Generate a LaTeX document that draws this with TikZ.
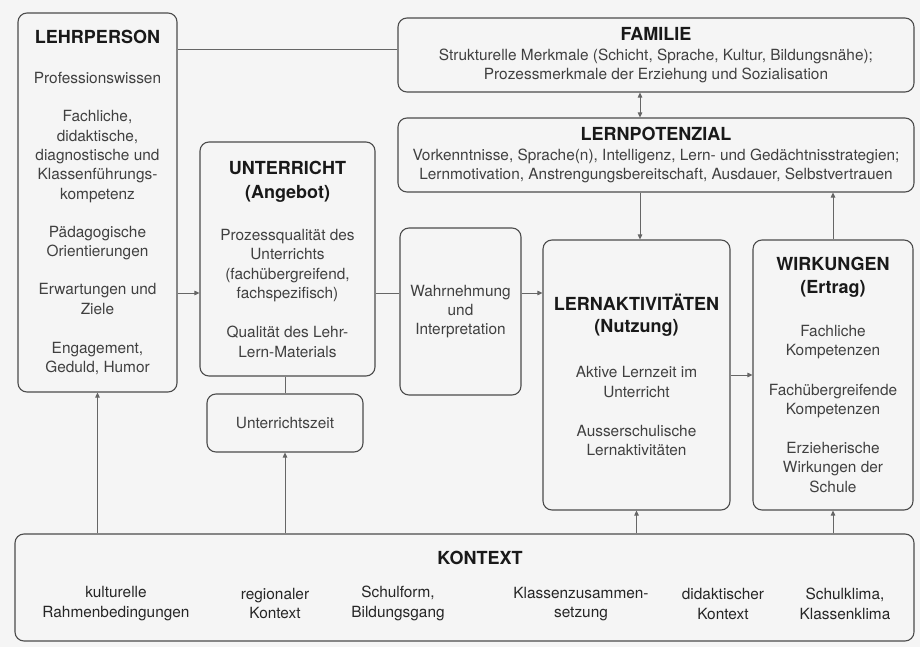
\documentclass[tikz,border=0pt]{standalone}
\usepackage{fontspec}
\setmainfont{TeX Gyre Heros}
\usepackage{tikz}
\usetikzlibrary{arrows.meta, positioning}

\newcommand{\titel}[1]{{\fontsize{18}{19.3}\selectfont\bfseries\color{black!90}#1}}

\begin{document}
\begin{tikzpicture}[x=1pt, y=-1pt, >={Triangle[length=5pt,width=4.5pt]},
		kasten/.style={draw=black!70, line width=1.1pt, rounded corners=9pt, inner sep=0pt, align=center, text=black!75, font=\fontsize{15.4}{19.3}\selectfont},
		pfeil/.style={draw=black!60, line width=0.9pt},
		eintrag/.style={align=center, text=black!85, font=\fontsize{15.4}{19.3}\selectfont}]
			\fill[black!4] (0,0) rectangle (920,647);
			
			% Kaesten
			\node[kasten, minimum width=159pt, minimum height=379pt] (lehrer) at (97.5,202.5) {\titel{LEHRPERSON}\\[21pt] Professionswissen\\[19pt] Fachliche,\\ didaktische,\\ diagnostische und\\ Klassenführungs-\\ kompetenz\\[19pt] Pädagogische\\ Orientierungen\\[19pt] Erwartungen und\\ Ziele\\[20pt] Engagement,\\ Geduld, Humor};
			\node[kasten, minimum width=516pt, minimum height=74pt] (familie) at (656,55) {\titel{FAMILIE}\\[1pt] Strukturelle Merkmale (Schicht, Sprache, Kultur, Bildungsnähe);\\[-1pt] Prozessmerkmale der Erziehung und Sozialisation};
			\node[kasten, minimum width=516pt, minimum height=74pt] (lernpot) at (656,155) {\titel{LERNPOTENZIAL}\\[1pt] Vorkenntnisse, Sprache(n), Intelligenz, Lern- und Gedächtnisstrategien;\\[-1pt] Lernmotivation, Anstrengungsbereitschaft, Ausdauer, Selbstvertrauen};
			\node[kasten, minimum width=175pt, minimum height=234pt] (unterricht) at (287.5,259) {\titel{UNTERRICHT}\\[5pt] \titel{(Angebot)}\\[23pt] Prozessqualität des\\ Unterrichts\\ (fachübergreifend,\\ fachspezifisch)\\[20pt] Qualität des Lehr-\\ Lern-Materials};
			\node[kasten, minimum width=156pt, minimum height=58pt] (uzeit) at (285,423) {Unterrichtszeit};
			\node[kasten, minimum width=121pt, minimum height=167pt] (wahrn) at (460.5,311.5) {Wahrnehmung\\ und\\ Interpretation};
			\node[kasten, minimum width=187pt, minimum height=270pt] (la) at (636.5,375) {\titel{LERNAKTIVITÄTEN}\\[3pt] \titel{(Nutzung)}\\[26pt] Aktive Lernzeit im\\ Unterricht\\[20pt] Ausserschulische\\ Lernaktivitäten};
			\node[kasten, minimum width=160pt, minimum height=270pt] (wirk) at (833,375) {\titel{WIRKUNGEN}\\[3pt] \titel{(Ertrag)}\\[24pt] Fachliche\\ Kompetenzen\\[20pt] Fachübergreifende\\ Kompetenzen\\[20pt] Erzieherische\\ Wirkungen der\\ Schule};
			
			% Kontext
			\node[kasten, minimum width=899pt, minimum height=107pt] (kontext) at (464.5,587.5) {};
			\node (kontexttitel) at (480,558) {\titel{KONTEXT}};
			\node[eintrag] (kultur) at (116,603.5) {kulturelle\\ Rahmenbedingungen};
			\node[eintrag] (region) at (275,603.5) {regionaler\\ Kontext};
			\node[eintrag] (schulform) at (398,603.5) {Schulform,\\ Bildungsgang};
			\node[eintrag] (klasse) at (581,604) {Klassenzusammen-\\ setzung};
			\node[eintrag] (didaktik) at (723,604) {didaktischer\\ Kontext};
			\node[eintrag] (klima) at (845,604) {Schulklima,\\ Klassenklima};
			
			% Verbindungen
			\coordinate (achse) at (640,0);
			\coordinate (zeile) at (0,293);
			\draw[pfeil] ([yshift=6pt]familie.west) -- ([yshift=6pt]familie.west -| lehrer.east);
			\draw[pfeil, <->] (familie.south -| achse) -- (lernpot.north -| achse);
			\draw[pfeil, ->] (lernpot.south -| achse) -- (la.north -| achse);
			\draw[pfeil, ->] (wirk.north) -- (wirk.north |- lernpot.south);
			\draw[pfeil, ->] (lehrer.east |- zeile) -- (unterricht.west |- zeile);
			\draw[pfeil] (unterricht.east |- zeile) -- (wahrn.west |- zeile);
			\draw[pfeil, ->] (wahrn.east |- zeile) -- (la.west |- zeile);
			\draw[pfeil, ->] (la.east) -- (wirk.west);
			\draw[pfeil] (unterricht.south -| uzeit.north) -- (uzeit.north);
			\draw[pfeil, ->] (kontext.north -| uzeit.south) -- (uzeit.south);
			\draw[pfeil, ->] (kontext.north -| lehrer.south) -- (lehrer.south);
			\draw[pfeil, ->] (kontext.north -| la.south) -- (la.south);
			\draw[pfeil, ->] (kontext.north -| wirk.south) -- (wirk.south);
		\end{tikzpicture}
\end{document}
